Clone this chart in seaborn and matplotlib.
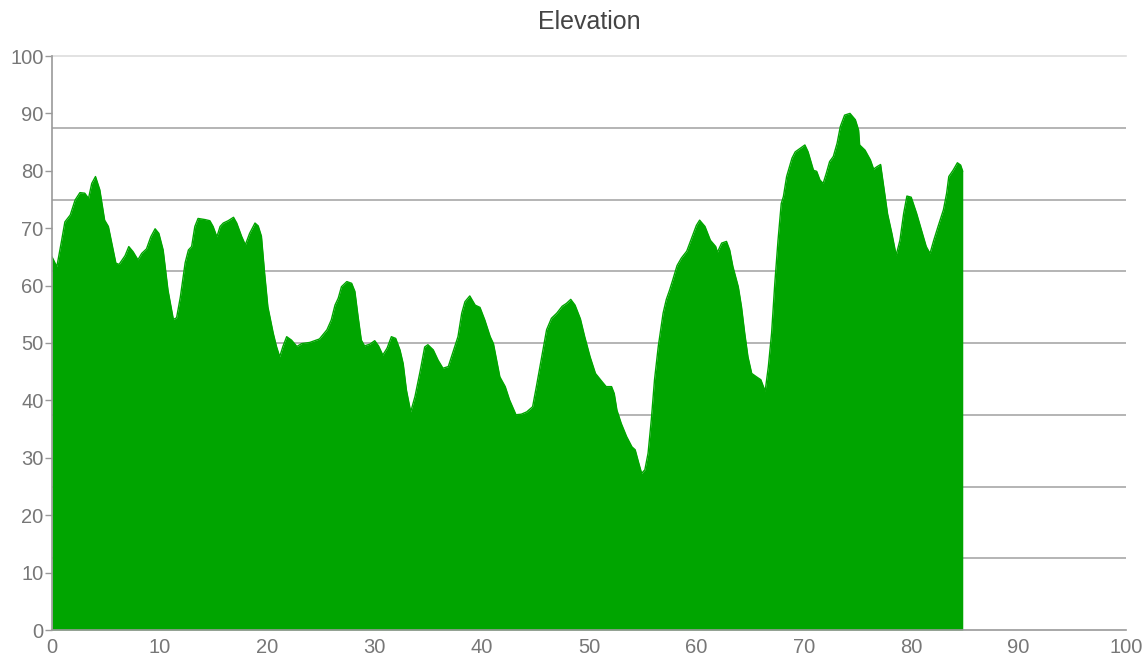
import numpy as np
import matplotlib
matplotlib.use("Agg")
import matplotlib.pyplot as plt
import seaborn as sns

sns.set_theme(style="white")
plt.rcParams['font.family'] = ['Liberation Sans', 'DejaVu Sans']

# profile (distance along x, elevation)
distance = [
    0.0, 0.45, 0.9, 1.2, 1.7, 2.15, 2.6, 3.05, 3.4, 3.7, 4.05, 4.45, 4.9, 5.25,
    5.95, 6.25, 6.8, 7.15, 7.55, 8.0, 8.35, 8.8, 9.2, 9.6, 9.95, 10.35, 10.8,
    11.3, 11.6, 11.95, 12.4, 12.7, 13.0, 13.3, 13.6, 14.25, 14.7, 15.0, 15.35,
    15.65, 15.95, 16.4, 16.9, 17.2, 17.65, 18.0, 18.4, 18.9, 19.2, 19.5, 19.8,
    20.1, 20.6, 20.9, 21.2, 21.5, 21.85, 22.3, 22.8, 23.25, 24.0, 24.9, 25.6,
    26.0, 26.35, 26.65, 26.95, 27.45, 27.9, 28.2, 28.5, 28.8, 29.1, 29.6,
    30.05, 30.4, 30.8, 31.2, 31.6, 32.0, 32.4, 32.7, 33.0, 33.4, 33.8, 34.3,
    34.7, 35.0, 35.5, 35.95, 36.4, 36.9, 37.4, 37.8, 38.15, 38.45, 38.9, 39.4,
    39.85, 40.3, 40.8, 41.1, 41.4, 41.7, 42.2, 42.6, 43.2, 43.7, 44.2, 44.75,
    45.1, 45.6, 46.05, 46.5, 47.0, 47.5, 47.9, 48.3, 48.7, 49.2, 49.6, 50.1,
    50.6, 51.2, 51.6, 52.1, 52.35, 52.6, 53.0, 53.5, 54.0, 54.3, 54.6, 54.9,
    55.2, 55.5, 55.8, 56.1, 56.45, 56.9, 57.2, 57.5, 57.8, 58.2, 58.6, 59.1,
    59.6, 60.0, 60.3, 60.8, 61.3, 61.8, 61.95, 62.35, 62.8, 63.1, 63.4, 63.9,
    64.2, 64.5, 64.8, 65.15, 65.6, 66.0, 66.4, 66.7, 67.0, 67.3, 67.6, 67.9,
    68.1, 68.4, 68.9, 69.2, 69.65, 70.1, 70.4, 70.9, 71.2, 71.5, 71.8, 72.1,
    72.4, 72.75, 73.1, 73.4, 73.8, 74.3, 74.8, 75.1, 75.2, 75.7, 76.2, 76.5,
    76.8, 77.15, 77.5, 77.8, 78.2, 78.6, 78.95, 79.3, 79.6, 80.0, 80.5, 80.95,
    81.4, 81.75, 82.1, 82.5, 83.0, 83.3, 83.5, 83.9, 84.3, 84.6, 84.8,
]
elevation = [
    65.0, 63.3, 67.9, 71.1, 72.3, 74.9, 76.2, 76.1, 75.2, 77.8, 79.0, 76.7, 71.4, 70.3,
    63.9, 63.7, 65.2, 66.8, 65.9, 64.5, 65.6, 66.4, 68.5, 69.9, 69.1, 66.2, 59.2,
    54.1, 54.4, 58.0, 64.0, 66.2, 66.8, 70.3, 71.7, 71.5, 71.3, 70.3, 68.5,
    70.3, 70.9, 71.3, 71.9, 70.9, 68.6, 67.1, 69.1, 70.9, 70.4, 68.6, 62.1,
    56.3, 51.7, 49.4, 47.6, 49.4, 51.1, 50.5, 49.4, 49.9, 50.1, 50.7, 52.3,
    54.0, 56.6, 57.8, 59.8, 60.7, 60.4, 59.0, 54.6, 50.5, 49.5, 49.8,
    50.4, 49.5, 47.9, 49.1, 51.1, 50.8, 48.8, 46.4, 41.8, 38.0, 40.7, 45.3,
    49.3, 49.7, 48.8, 47.0, 45.6, 45.9, 48.8, 51.1, 55.2, 57.2, 58.2, 56.6,
    56.2, 54.0, 51.1, 49.9, 47.0, 44.1, 42.4, 40.1, 37.5, 37.6, 38.0, 38.9,
    42.4, 47.6, 52.3, 54.3, 55.2, 56.4, 56.9, 57.6, 56.6, 54.2, 51.1, 47.6,
    44.7, 43.3, 42.4, 42.4, 41.2, 38.3, 36.0, 33.7, 31.9, 31.4, 29.3, 27.3,
    27.9, 30.8, 36.6, 43.6, 49.4, 55.2, 57.6, 59.2, 61.0, 63.5, 64.8, 66.0,
    68.5, 70.5, 71.4, 70.3, 67.9, 66.8, 65.8, 67.4, 67.7, 66.2, 63.3, 59.8,
    56.3, 51.7, 47.6, 44.7, 44.1, 43.6, 41.6, 45.9, 51.7, 60.4, 67.9, 74.3,
    75.5, 79.0, 82.2, 83.3, 83.9, 84.5, 83.3, 80.1, 79.9, 78.4, 77.8, 79.6,
    81.6, 82.5, 84.8, 87.7, 89.7, 90.0, 88.9, 87.1, 84.5, 83.6, 81.9, 80.3,
    80.7, 81.1, 76.5, 72.5, 69.1, 65.3, 67.9, 72.6, 75.6, 75.4, 72.6, 69.7,
    66.8, 65.6, 67.9, 70.3, 73.2, 76.1, 79.0, 80.1, 81.4, 81.0, 79.9,
]

x_ticks = list(range(0, 101, 10))
y_ticks = list(range(0, 101, 10))
grid_levels = [12.5, 25, 37.5, 50, 62.5, 75, 87.5]

green = '#00a500'
label_col = '#777777'

fig = plt.figure(figsize=(11.46, 6.61), dpi=100)
ax = fig.add_axes([52 / 1146, 31 / 661, 1074 / 1146, 574 / 661])

# horizontal gridlines sit behind the area
ax.hlines(grid_levels, 0, 100, color='#a8a8a8', lw=1.2, zorder=0)

ax.fill_between(distance, elevation, 0, color=green, lw=0, zorder=2)
sns.lineplot(x=distance, y=elevation, ax=ax, color=green, lw=1, sort=False, zorder=3)

ax.set_xlim(0, 100)
ax.set_ylim(0, 100)
ax.set_xticks(x_ticks)
ax.set_yticks(y_ticks)
ax.tick_params(axis='y', length=5, width=1, color='#999999', labelcolor=label_col,
               labelsize=14.5, pad=1, direction='out', left=True)
ax.tick_params(axis='x', length=0, labelcolor=label_col, labelsize=14.5, pad=6)

for side in ['right']:
    ax.spines[side].set_visible(False)
ax.spines['top'].set_color('#dddddd')
ax.spines['top'].set_linewidth(1.2)
ax.spines['left'].set_color('#999999')
ax.spines['bottom'].set_color('#999999')
ax.spines['left'].set_linewidth(1.2)
ax.spines['bottom'].set_linewidth(1.2)
ax.spines['left'].set_zorder(4)
ax.spines['bottom'].set_zorder(4)

ax.set_xlabel('')
ax.set_ylabel('')
fig.text(589 / 1146, 1 - 22 / 661, 'Elevation', ha='center', va='center',
         fontsize=18, color='#444444')

fig.savefig('out.png', dpi=100)
